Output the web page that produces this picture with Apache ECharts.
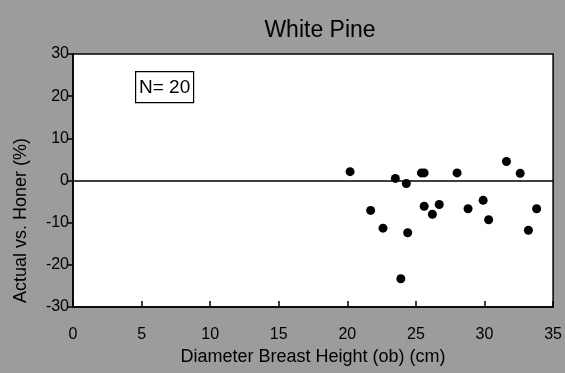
<!DOCTYPE html>
<html>
<head>
<meta charset="utf-8">
<script src="https://cdn.jsdelivr.net/npm/echarts@6/dist/echarts.min.js"></script>
<style>
  html, body { margin: 0; padding: 0; background: #9c9c9c; }
  #chart { width: 565px; height: 373px; }
</style>
</head>
<body>
<div id="chart"></div>
<script>
var titleText = "White Pine";
var xName = "Diameter Breast Height (ob) (cm)";
var yName = "Actual vs. Honer (%)";
var countLabel = "N= 20";

// diameter (cm) and difference (%)
var dbh = [20.2, 21.7, 22.6, 23.5, 23.9, 24.3, 24.4, 25.4, 25.6, 25.6,
           26.2, 26.7, 28.0, 28.8, 29.9, 30.3, 31.6, 32.6, 33.2, 33.8];
var diff = [2.1, -7.1, -11.3, 0.5, -23.3, -0.7, -12.4, 1.8, 1.8, -6.1,
            -8.0, -5.7, 1.8, -6.7, -4.7, -9.3, 4.5, 1.7, -11.8, -6.7];

var points = [];
for (var i = 0; i < dbh.length; i++) {
    points.push([dbh[i], diff[i]]);
}

var font = "Liberation Sans";
var chart = echarts.init(document.getElementById("chart"));
chart.setOption({
    backgroundColor: '#9c9c9c',
    animation: false,
    title: {
        text: titleText,
        left: 315,
        textAlign: 'center',
        top: 14,
        textStyle: { fontFamily: font, fontSize: 23, fontWeight: 'normal', color: '#000' }
    },
    grid: {
        left: 73, right: 7, top: 54, bottom: 66,
        show: true,
        backgroundColor: '#fff',
        borderColor: '#000',
        borderWidth: 1.5
    },
    xAxis: {
        type: 'value',
        min: 0, max: 35, interval: 5,
        name: xName,
        nameLocation: 'middle',
        nameGap: 37,
        nameTextStyle: { fontFamily: font, fontSize: 18, color: '#000' },
        axisLine: { onZero: false, lineStyle: { color: '#000', width: 1.5 } },
        axisTick: { inside: true, length: 6, lineStyle: { color: '#000', width: 1.5 } },
        axisLabel: { fontFamily: font, fontSize: 16, color: '#000', margin: 20, showMaxLabel: true },
        splitLine: { show: false }
    },
    yAxis: {
        type: 'value',
        min: -30, max: 30, interval: 10,
        name: yName,
        nameLocation: 'middle',
        nameGap: 43,
        nameTextStyle: { fontFamily: font, fontSize: 18, color: '#000', padding: [0, 80, 0, 0] },
        axisLine: { onZero: false, lineStyle: { color: '#000', width: 1.5 } },
        axisTick: { length: 6, lineStyle: { color: '#000', width: 1.5 } },
        axisLabel: { fontFamily: font, fontSize: 16, color: '#000', margin: 4 },
        splitLine: { show: false }
    },
    graphic: [{
        type: 'group',
        left: 135,
        top: 71,
        children: [{
            type: 'rect',
            shape: { x: 0, y: 0, width: 58, height: 31 },
            style: { fill: '#fff', stroke: '#000', lineWidth: 1.2 }
        }, {
            type: 'text',
            x: 29, y: 16,
            style: {
                text: countLabel,
                fontFamily: font, fontSize: 19, fill: '#000',
                align: 'center', verticalAlign: 'middle'
            }
        }]
    }],
    series: [{
        type: 'scatter',
        data: points,
        symbol: 'circle',
        symbolSize: 9,
        itemStyle: { color: '#000', opacity: 1 },
        markLine: {
            silent: true,
            symbol: 'none',
            label: { show: false },
            lineStyle: { color: '#000', width: 1.5, type: 'solid' },
            data: [{ yAxis: 0 }]
        }
    }]
});
</script>
</body>
</html>
